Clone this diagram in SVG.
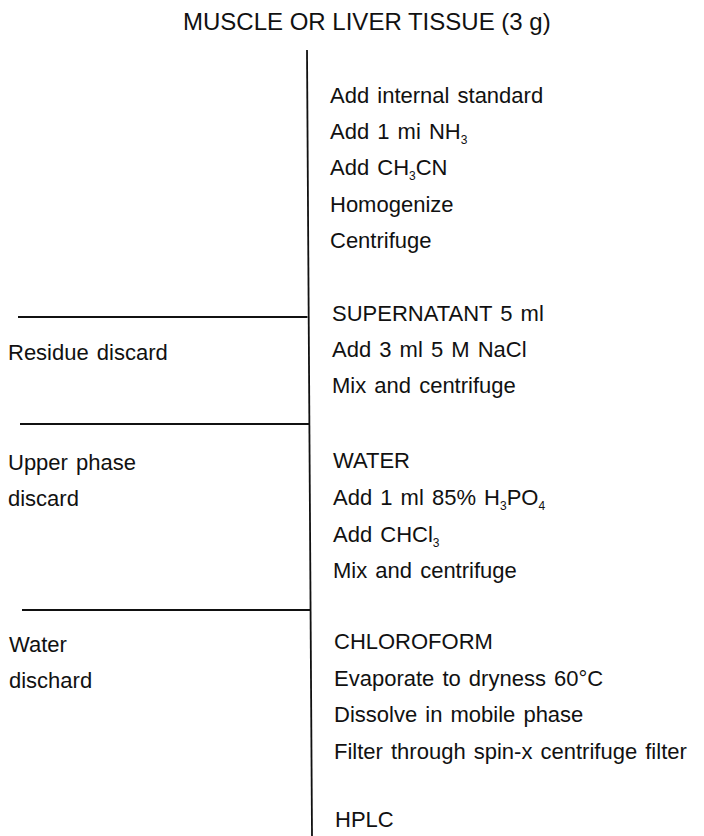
<svg xmlns="http://www.w3.org/2000/svg" width="704" height="836" viewBox="0 0 704 836">
<style>
  .t { font-family: "Liberation Sans", Arial, sans-serif; font-size: 22px; fill: #111; word-spacing: 2px; }
  .title { font-family: "Liberation Sans", Arial, sans-serif; font-size: 24px; fill: #111; }
  .sub { font-size: 12px; }
  .ln { stroke: #111; stroke-width: 1.8; fill: none; stroke-linecap: butt; }
</style>
<rect width="704" height="836" fill="#ffffff"/>
<g id="connectors">
  <path class="ln" d="M307,50 L312,836"/>
  <path class="ln" d="M18,317 L307.5,317"/>
  <path class="ln" d="M20,424 L309,424"/>
  <path class="ln" d="M22,610 L311,610"/>
</g>
<g id="node-tissue">
  <text class="title" x="183" y="30">MUSCLE OR LIVER TISSUE (3 g)</text>
</g>
<g id="node-extraction">
  <text class="t" x="330" y="103">Add internal standard</text>
  <text class="t" x="330" y="139">Add 1 mi NH<tspan class="sub" dy="5">3</tspan></text>
  <text class="t" x="330" y="175">Add CH<tspan class="sub" dy="5">3</tspan><tspan dy="-5">CN</tspan></text>
  <text class="t" x="330" y="212">Homogenize</text>
  <text class="t" x="330" y="248">Centrifuge</text>
</g>
<g id="node-supernatant">
  <text class="t" x="332" y="321">SUPERNATANT 5 ml</text>
  <text class="t" x="332" y="357">Add 3 ml 5 M NaCl</text>
  <text class="t" x="332" y="393">Mix and centrifuge</text>
</g>
<g id="node-residue">
  <text class="t" x="8" y="360">Residue discard</text>
</g>
<g id="node-water">
  <text class="t" x="333" y="468">WATER</text>
  <text class="t" x="333" y="505">Add 1 ml 85% H<tspan class="sub" dy="5">3</tspan><tspan dy="-5">PO</tspan><tspan class="sub" dy="5">4</tspan></text>
  <text class="t" x="333" y="542">Add CHCl<tspan class="sub" dy="5">3</tspan></text>
  <text class="t" x="333" y="578">Mix and centrifuge</text>
</g>
<g id="node-upper-phase">
  <text class="t" x="8" y="470">Upper phase</text>
  <text class="t" x="8" y="506">discard</text>
</g>
<g id="node-chloroform">
  <text class="t" x="334" y="649">CHLOROFORM</text>
  <text class="t" x="334" y="686">Evaporate to dryness 60°C</text>
  <text class="t" x="334" y="722">Dissolve in mobile phase</text>
  <text class="t" x="334" y="759">Filter through spin-x centrifuge filter</text>
</g>
<g id="node-water-discard">
  <text class="t" x="9" y="652">Water</text>
  <text class="t" x="9" y="688">dischard</text>
</g>
<g id="node-hplc">
  <text class="t" x="335" y="827">HPLC</text>
</g>
</svg>
